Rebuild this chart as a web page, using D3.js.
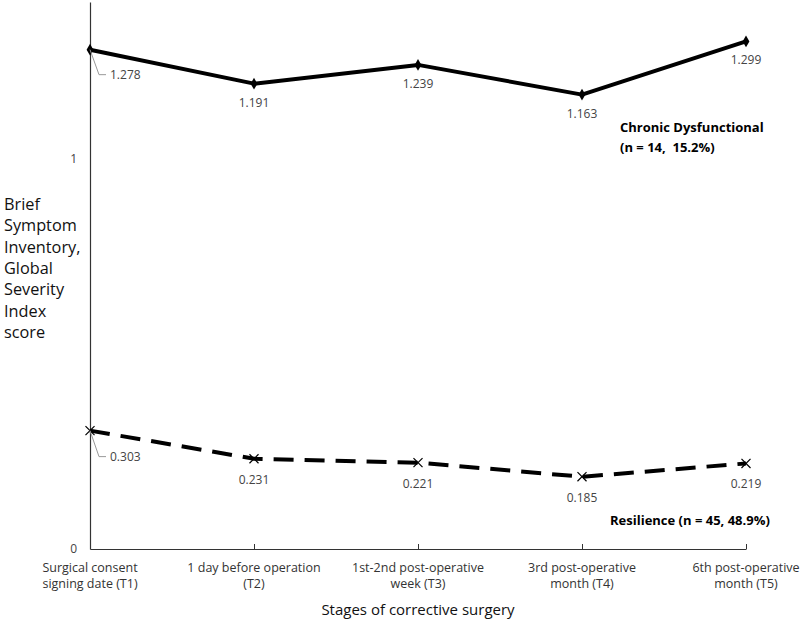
<!DOCTYPE html>
<html>
<head>
<meta charset="utf-8">
<script src="https://cdnjs.cloudflare.com/ajax/libs/d3/7.8.5/d3.min.js"></script>
<style>
  body { margin: 0; background: #fff; }
  svg { display: block; }
  text { font-family: "Open Sans", "Noto Sans", sans-serif; }
</style>
</head>
<body>
<svg id="chart" width="800" height="620"></svg>
<script>
const categories = [
  ["Surgical consent", "signing date (T1)"],
  ["1 day before operation", "(T2)"],
  ["1st-2nd post-operative", "week (T3)"],
  ["3rd post-operative", "month (T4)"],
  ["6th post-operative", "month (T5)"]
];
const chronicValues = [1.278, 1.191, 1.239, 1.163, 1.299];
const resilienceValues = [0.303, 0.231, 0.221, 0.185, 0.219];
const yTicks = [0, 1];
const chronicLabel = ["Chronic Dysfunctional", "(n = 14,  15.2%)"];
const resilienceLabel = "Resilience (n = 45, 48.9%)";
const yTitle = ["Brief", "Symptom", "Inventory,", "Global", "Severity", "Index", "score"];
const xTitle = "Stages of corrective surgery";

const svg = d3.select("#chart");
const plotLeft = 90, plotRight = 746, plotTop = 2, plotBottom = 549;

const x = d3.scalePoint().domain(d3.range(categories.length)).range([plotLeft, plotRight]);
const y = d3.scaleLinear().domain([0, 1.4]).range([plotBottom, plotTop]);

// Y axis
const yAxis = d3.axisLeft(y).tickValues(yTicks).tickFormat(d3.format("d")).tickSize(0).tickPadding(13);
const gy = svg.append("g").attr("transform", `translate(${plotLeft},0)`).call(yAxis);
gy.select(".domain").attr("stroke", "#333").attr("stroke-width", 1.2);
gy.selectAll("text").attr("font-size", 12).attr("fill", "#444").attr("font-family", "Open Sans, sans-serif");

// X axis
const xAxis = d3.axisBottom(x).tickSize(-5).tickFormat("").tickSizeOuter(0);
const gx = svg.append("g").attr("transform", `translate(0,${plotBottom})`).call(xAxis);
gx.select(".domain").attr("stroke", "#333").attr("stroke-width", 1.2);
gx.selectAll(".tick line").attr("stroke", "#333");

// X category labels
const catG = svg.append("g");
categories.forEach((lines, i) => {
  const t = catG.append("text")
    .attr("x", x(i)).attr("y", 572)
    .attr("text-anchor", "middle")
    .attr("font-size", 12.5).attr("fill", "#333");
  lines.forEach((ln, j) => {
    t.append("tspan").attr("x", x(i)).attr("dy", j === 0 ? 0 : 16).text(ln);
  });
});

// X title
svg.append("text").attr("x", x(2)).attr("y", 615)
  .attr("text-anchor", "middle").attr("font-size", 15).attr("fill", "#111")
  .text(xTitle);

// Y title
const yt = svg.append("text").attr("x", 4).attr("y", 210).attr("font-size", 16.3).attr("fill", "#111");
yTitle.forEach((ln, j) => {
  yt.append("tspan").attr("x", 4).attr("dy", j === 0 ? 0 : 21.3).text(ln);
});

const idx = d3.range(categories.length);
const line = (vals) => d3.line().x(i => x(i)).y(i => y(vals[i]));

// Chronic line
svg.append("path").datum(idx).attr("d", line(chronicValues))
  .attr("fill", "none").attr("stroke", "#000").attr("stroke-width", 4).attr("stroke-linejoin", "round");
svg.selectAll(".dia").data(idx).enter().append("path")
  .attr("d", d3.symbol().type(d3.symbolDiamond).size(40))
  .attr("transform", i => `translate(${x(i)},${y(chronicValues[i])})`)
  .attr("fill", "#000");

// Resilience line
svg.append("path").datum(idx).attr("d", line(resilienceValues))
  .attr("fill", "none").attr("stroke", "#000").attr("stroke-width", 4)
  .attr("stroke-dasharray", "20,11");
svg.selectAll(".xm").data(idx).enter().append("path")
  .attr("d", d3.symbol().type(d3.symbolX).size(55))
  .attr("transform", i => `translate(${x(i)},${y(resilienceValues[i])})`)
  .attr("fill", "none").attr("stroke", "#000").attr("stroke-width", 1.2);

// Data labels
function addLabels(vals, offsets) {
  vals.forEach((v, i) => {
    const px = x(i), py = y(v);
    if (i === 0) {
      svg.append("path")
        .attr("d", `M${px},${py} L${px + 9},${py + offsets.lead} L${px + 16},${py + offsets.lead}`)
        .attr("fill", "none").attr("stroke", "#999").attr("stroke-width", 1);
      svg.append("text").attr("x", px + 20).attr("y", py + offsets.lead + 4)
        .attr("font-size", 12).attr("fill", "#444").text(d3.format(".3f")(v));
    } else {
      svg.append("text").attr("x", px).attr("y", py + offsets.below + 4)
        .attr("text-anchor", "middle").attr("font-size", 12).attr("fill", "#444")
        .text(d3.format(".3f")(v));
    }
  });
}
addLabels(chronicValues, { lead: 25, below: 19 });
addLabels(resilienceValues, { lead: 26, below: 21 });

// Series labels
const cl = svg.append("text").attr("x", 620).attr("y", 132)
  .attr("font-size", 13).attr("font-weight", "bold").attr("fill", "#000");
chronicLabel.forEach((ln, j) => {
  cl.append("tspan").attr("x", 620).attr("dy", j === 0 ? 0 : 20).attr("xml:space", "preserve").text(ln);
});
svg.append("text").attr("x", 610).attr("y", 525)
  .attr("font-size", 13).attr("font-weight", "bold").attr("fill", "#000")
  .text(resilienceLabel);
</script>
</body>
</html>
